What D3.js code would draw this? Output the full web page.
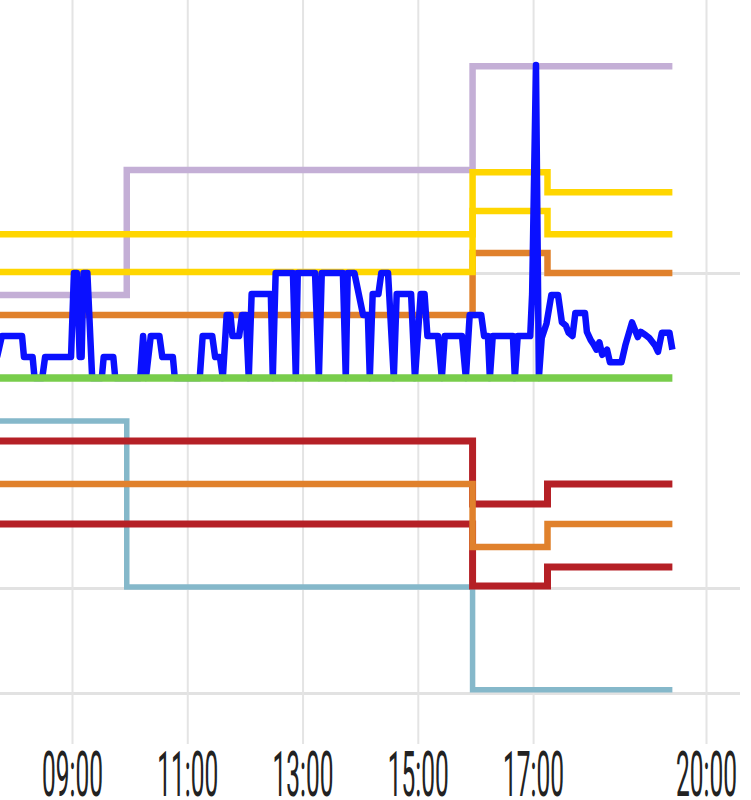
<!DOCTYPE html>
<html lang="en">

<head>
    <meta charset="UTF-8">
    <title>Thermostat history</title>
    <script src="https://cdnjs.cloudflare.com/ajax/libs/d3/7.8.5/d3.min.js" type="text/JavaScript"></script>
    <style>
        body { margin: 0; background: #fff; }
        svg { display: block; overflow: hidden; }
    </style>
</head>

<body>
    <svg width="751" height="800"></svg>
    <script>
        const parseTime = d3.timeParse("%H:%M")

        const xTicks = ["09:00", "11:00", "13:00", "15:00", "17:00", "20:00"]
        const yGrid = [16, 17, 20]

        // setpoint style series (stepped)
        const stepTimes = ["07:40", "15:57", "17:15", "19:25"]
        const yellowHigh = [20.37, 20.96, 20.77, 20.77]
        const yellowLow = [20.01, 20.59, 20.37, 20.37]
        const orangeHigh = [19.60, 20.19, 20.00, 20.00]
        const orangeLow = [17.99, 17.39, 17.61, 17.61]
        const redHigh = [18.40, 17.80, 17.99, 17.99]
        const redLow = [17.61, 17.02, 17.20, 17.20]

        const modeTimes = ["07:40", "09:57", "15:57", "19:25"]
        const lavender = [19.79, 20.98, 21.97, 21.97]
        const teal = [18.59, 17.01, 16.03, 16.03]

        const greenTimes = ["07:40", "19:25"]
        const green = [19.0, 19.0]

        // measured temperature
        const blueTimes = [
            "07:42", "07:47", "08:08", "08:10", "08:19", "08:21", "08:29", "08:32", "08:59", "09:02",
            "09:05", "09:08", "09:10", "09:12", "09:16", "09:21", "09:31", "09:33", "09:43", "09:45",
            "10:11", "10:14", "10:17", "10:22", "10:31", "10:34", "10:45", "10:47", "11:13", "11:16",
            "11:26", "11:29", "11:34", "11:37", "11:41", "11:45", "11:47", "11:54", "11:57", "12:01",
            "12:04", "12:07", "12:27", "12:29", "12:32", "12:50", "12:53", "12:55", "13:13", "13:17",
            "13:20", "13:42", "13:45", "13:47", "13:54", "14:03", "14:08", "14:10", "14:13", "14:19",
            "14:22", "14:29", "14:35", "14:38", "14:53", "14:57", "15:03", "15:07", "15:10", "15:21",
            "15:25", "15:28", "15:46", "15:50", "15:54", "16:06", "16:09", "16:13", "16:15", "16:18",
            "16:39", "16:41", "16:44", "16:57", "16:59", "17:03", "17:06", "17:09", "17:14", "17:19",
            "17:26", "17:30", "17:34", "17:37", "17:41", "17:44", "17:54", "17:56", "18:00", "18:03",
            "18:06", "18:09", "18:12", "18:17", "18:20", "18:32", "18:36", "18:43", "18:46", "18:49",
            "18:52", "18:57", "19:01", "19:07", "19:10", "19:14", "19:22", "19:25"
        ]
        const blueValues = [
            19.2, 19.4, 19.4, 19.2, 19.2, 19.0, 19.0, 19.2, 19.2, 20.0,
            20.0, 19.2, 19.2, 20.0, 20.0, 19.0, 19.0, 19.2, 19.2, 19.0,
            19.0, 19.4, 19.0, 19.4, 19.4, 19.2, 19.2, 19.0, 19.0, 19.4,
            19.4, 19.2, 19.2, 19.0, 19.6, 19.6, 19.4, 19.4, 19.6, 19.6,
            19.0, 19.8, 19.8, 19.0, 20.0, 20.0, 19.0, 20.0, 20.0, 19.0,
            20.0, 20.0, 19.0, 20.0, 20.0, 19.6, 19.6, 19.0, 19.8, 19.8,
            20.0, 20.0, 19.0, 19.8, 19.8, 19.0, 19.8, 19.8, 19.4, 19.4,
            19.0, 19.4, 19.4, 19.0, 19.6, 19.6, 19.4, 19.4, 19.0, 19.4,
            19.4, 19.0, 19.4, 19.4, 19.8, 21.98, 19.0, 19.38, 19.52, 19.79,
            19.79, 19.53, 19.50, 19.43, 19.40, 19.62, 19.62, 19.44, 19.36, 19.32,
            19.27, 19.34, 19.22, 19.27, 19.15, 19.15, 19.31, 19.53, 19.46, 19.39,
            19.44, 19.41, 19.38, 19.31, 19.25, 19.43, 19.43, 19.27
        ]

        const svg = d3.select("svg")

        const x = d3.scaleTime()
            .domain([parseTime("09:00"), parseTime("20:00")])
            .range([72, 706])

        const y = d3.scaleLinear()
            .domain([16, 22.6])
            .range([693, 0])

        // horizontal grid
        svg.append("g")
            .attr("transform", "translate(740,0)")
            .call(d3.axisLeft(y).tickValues(yGrid).tickSize(760).tickFormat(""))
            .call(g => g.select(".domain").remove())
            .selectAll("line")
            .style("stroke", "#e2e2e2")
            .style("stroke-width", "3px")

        // vertical grid + labels
        const xAxis = svg.append("g")
            .attr("transform", "translate(0,744)")
            .call(d3.axisBottom(x)
                .tickValues(xTicks.map(parseTime))
                .tickSize(-744)
                .tickFormat(d3.timeFormat("%H:%M")))
            .call(g => g.select(".domain").remove())

        xAxis.selectAll("line")
            .style("stroke", "#e4e4e4")
            .style("stroke-width", "2px")

        xAxis.selectAll("text")
            .attr("y", 0)
            .attr("dy", 0)
            .attr("transform", "translate(0,52) scale(1,2.6)")
            .style("font-family", "Roboto, 'DejaVu Sans', sans-serif")
            .style("font-size", "24.5px")
            .style("fill", "#222")

        const series = [
            { times: modeTimes, values: lavender, color: "#c4afd6", width: 6.5, step: true },
            { times: modeTimes, values: teal, color: "#85b8ca", width: 5.5, step: true },
            { times: stepTimes, values: redHigh, color: "#b52026", width: 7, step: true },
            { times: stepTimes, values: redLow, color: "#b52026", width: 7, step: true },
            { times: stepTimes, values: orangeHigh, color: "#e0812c", width: 6.5, step: true },
            { times: stepTimes, values: orangeLow, color: "#e0812c", width: 6.5, step: true },
            { times: stepTimes, values: yellowHigh, color: "#ffd600", width: 6.5, step: true },
            { times: stepTimes, values: yellowLow, color: "#ffd600", width: 6.5, step: true },
            { times: blueTimes, values: blueValues, color: "#0a10ff", width: 6.5, step: false },
            { times: greenTimes, values: green, color: "#78cd4b", width: 7.5, step: true }
        ]

        const line = d3.line()
            .x(d => x(parseTime(d[0])))
            .y(d => y(d[1]))

        svg.append("g")
            .selectAll("path")
            .data(series)
            .enter()
            .append("path")
            .attr("d", s => line.curve(s.step ? d3.curveStepAfter : d3.curveLinear)(d3.zip(s.times, s.values)))
            .style("fill", "none")
            .style("stroke", s => s.color)
            .style("stroke-width", s => s.width + "px")
            .style("stroke-linejoin", s => s.step ? "miter" : "round")
    </script>
</body>

</html>
